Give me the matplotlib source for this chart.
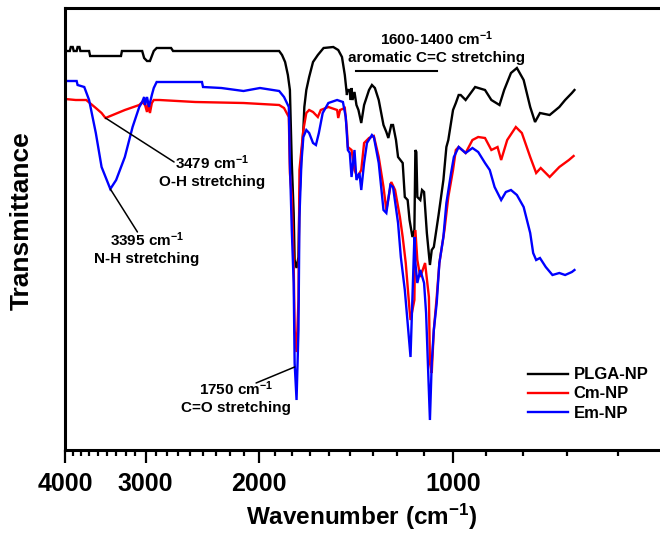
"""
FTIR spectra of PLGA-NP, Cm-NP and Em-NP nanoparticles.
Static matplotlib recreation, 660x534 px.
"""

import matplotlib
matplotlib.use("Agg")
import matplotlib.pyplot as plt
from matplotlib.ticker import NullFormatter

WIDTH, HEIGHT, DPI = 660, 534, 100

# Colors
BLACK = "#000000"
RED = "#FF0000"
BLUE = "#0000FF"

FONT = ["Liberation Sans", "DejaVu Sans"]

# -- Spectra: wavenumber (cm-1) and transmittance (a.u.) --
plga_wn = [4000, 3932, 3918, 3891, 3877, 3837, 3824, 3799, 3786, 3670, 3657, 3275, 3264,
           3036, 3015, 2984, 2953, 2933, 2913, 2883, 2738, 2719, 1861, 1842, 1822, 1804,
           1791, 1779, 1767, 1761, 1749, 1737, 1731, 1719, 1707, 1701, 1689, 1672, 1649,
           1621, 1588, 1534, 1507, 1487, 1472, 1461, 1456, 1446, 1441, 1437, 1432, 1422,
           1412, 1402, 1388, 1374, 1350, 1336, 1322, 1304, 1282, 1269, 1260, 1247, 1239,
           1226, 1217, 1197, 1188, 1176, 1168, 1156, 1148, 1144, 1140, 1136, 1124, 1117,
           1109, 1098, 1086, 1079, 1071, 1053, 1035, 1024, 1017, 1000, 990, 980, 973, 956,
           924, 892, 872, 847, 833, 813, 796, 777, 759, 746, 733, 708, 684, 670, 654, 648]
plga_t = [399, 399, 403, 403, 399, 399, 403, 403, 399, 399, 394, 394, 399,
          399, 392, 389, 389, 394, 399, 402, 402, 399, 399, 395, 388, 375,
          360, 287, 237, 190, 182, 193, 250, 293, 320, 343, 360, 373, 388,
          395, 402, 403, 400, 393, 375, 355, 360, 360, 350, 362, 350, 358,
          345, 340, 327, 345, 360, 365, 362, 350, 325, 318, 312, 325, 325,
          310, 293, 287, 253, 250, 230, 213, 220, 300, 298, 253, 250, 260,
          258, 217, 185, 200, 203, 235, 270, 303, 310, 340, 347, 355, 355, 350,
          363, 360, 350, 345, 360, 377, 382, 370, 343, 328, 337, 335, 343, 350, 357, 360]

cm_wn = [4000, 3850, 3708, 3583, 3510, 3461, 3402, 3230, 3068, 3036, 3005, 2984, 2974,
         2953, 2933, 2913, 2853, 2512, 2114, 1861, 1829, 1798, 1791, 1779, 1767, 1761,
         1749, 1737, 1731, 1719, 1707, 1689, 1672, 1649, 1621, 1604, 1561, 1513, 1507,
         1497, 1472, 1461, 1456, 1437, 1422, 1407, 1388, 1374, 1350, 1327, 1304, 1282,
         1269, 1247, 1230, 1209, 1197, 1184, 1168, 1164, 1148, 1144, 1136, 1124, 1105,
         1090, 1086, 1079, 1071, 1060, 1050, 1031, 1017, 1000, 990, 980, 956, 933, 914,
         892, 872, 853, 842, 824, 799, 782, 759, 743, 731, 708, 684, 661, 650]
cm_t = [351, 350, 350, 342, 337, 332, 334, 340, 345, 348, 345, 338, 347,
        337, 347, 350, 350, 348, 347, 345, 342, 333, 277, 253, 187, 120,
        98, 150, 280, 300, 320, 337, 340, 338, 333, 340, 343, 340, 332,
        340, 342, 320, 303, 300, 280, 273, 280, 307, 312, 314, 293, 263,
        240, 268, 260, 233, 213, 187, 140, 130, 150, 220, 190, 173, 187,
        153, 87, 77, 120, 153, 187, 220, 253, 280, 300, 303, 297, 310, 313,
        312, 300, 303, 290, 310, 323, 317, 293, 277, 282, 273, 283, 290, 294]

em_wn = [4000, 3837, 3824, 3734, 3670, 3583, 3510, 3402, 3332, 3230, 3142, 3068, 3036,
         3015, 3005, 2984, 2963, 2933, 2913, 2883, 2452, 2443, 2288, 2114, 1993, 1861,
         1829, 1798, 1791, 1779, 1767, 1761, 1749, 1737, 1731, 1719, 1707, 1689, 1672,
         1649, 1632, 1615, 1593, 1561, 1513, 1482, 1467, 1456, 1446, 1437, 1422, 1412,
         1397, 1388, 1374, 1360, 1336, 1327, 1304, 1282, 1269, 1251, 1239, 1217, 1205,
         1188, 1176, 1164, 1156, 1148, 1144, 1136, 1124, 1109, 1101, 1094, 1086, 1079,
         1071, 1060, 1050, 1035, 1024, 1007, 997, 980, 956, 933, 914, 892, 877, 862, 842,
         828, 813, 796, 777, 759, 751, 743, 733, 718, 701, 684, 670, 654, 648]
em_t = [369, 369, 365, 363, 350, 317, 283, 261, 270, 293, 323, 343, 348,
        353, 345, 353, 343, 355, 362, 368, 368, 363, 362, 359, 362, 359,
        353, 343, 287, 220, 167, 87, 50, 120, 233, 287, 313, 320, 317,
        307, 305, 317, 337, 347, 350, 348, 333, 300, 297, 273, 300, 270,
        277, 260, 287, 307, 315, 313, 287, 240, 237, 265, 263, 227, 193,
        160, 127, 93, 153, 213, 187, 167, 180, 167, 137, 87, 30, 87,
        120, 147, 187, 213, 247, 277, 293, 303, 297, 302, 298, 287, 280, 263, 250,
        258, 260, 255, 243, 217, 197, 190, 192, 183, 175, 177, 175, 178, 180]

SERIES = [
    ("PLGA-NP", plga_wn, plga_t, BLACK),
    ("Cm-NP", cm_wn, cm_t, RED),
    ("Em-NP", em_wn, em_t, BLUE),
]

MAJOR_TICKS = [4000, 3000, 2000, 1000]
MAJOR_LABELS = ["4000", "3000", "2000", "1000"]
MINOR_STEP = 1000 / 9  # eight minor ticks between majors

plt.rcParams["mathtext.default"] = "regular"

fig = plt.figure(figsize=(WIDTH / DPI, HEIGHT / DPI), dpi=DPI)
# axes run past the right edge, like the cropped original
ax = fig.add_axes([65 / WIDTH, 84 / HEIGHT, 615 / WIDTH, 442 / HEIGHT])

for label, wn, t, color in SERIES:
    ax.plot(wn, t, color=color, lw=1.7, label=label, solid_joinstyle="miter")

ax.set_xscale("log")
ax.set_xlim(4000, 480)
ax.set_ylim(0, 442)

ax.set_xticks(MAJOR_TICKS)
ax.set_xticklabels(MAJOR_LABELS)
minor = [4000 - k * MINOR_STEP for k in range(33) if k % 9]
ax.set_xticks(minor, minor=True)
ax.xaxis.set_minor_formatter(NullFormatter())
ax.set_yticks([])

ax.tick_params(axis="x", which="major", direction="out", length=9.5, width=1.6, pad=6)
ax.tick_params(axis="x", which="minor", direction="out", length=4.5, width=1.6)
for lab in ax.get_xticklabels():
    lab.set_fontfamily(FONT)
    lab.set_fontweight("bold")
    lab.set_fontsize(18)

ax.spines["right"].set_visible(False)
for side in ("left", "top", "bottom"):
    ax.spines[side].set_linewidth(2.2)

ax.set_xlabel("Wavenumber (cm$^{-1}$)", family=FONT, weight="bold", fontsize=17.5)
ax.xaxis.set_label_coords((362 - 65) / 615, -0.118)
ax.set_ylabel("Transmittance", family=FONT, weight="bold", fontsize=19)
ax.yaxis.set_label_coords(-0.05, 0.52)

# -- Peak annotations --
note = dict(family=FONT, weight="bold", fontsize=11, ha="center", va="center",
            multialignment="center", linespacing=1.25)
line = dict(arrowstyle="-", color=BLACK, lw=1.1, shrinkA=0, shrinkB=0)

ax.annotate("", xy=(3461, 332), xytext=(2709, 288), arrowprops=line)
ax.text(2368, 279, "3479 cm$^{-1}$\nO-H stretching", **note)

ax.annotate("", xy=(3402, 261), xytext=(3088, 218), arrowprops=line)
ax.text(2984, 202, "3395 cm$^{-1}$\nN-H stretching", **note)

ax.annotate("", xy=(1761, 83), xytext=(2021, 67), arrowprops=line)
ax.text(2172, 53, "1750 cm$^{-1}$\nC=O stretching", **note)

ax.plot([1413, 1060], [379, 379], color=BLACK, lw=1.5)
ax.text(1060, 403, "1600-1400 cm$^{-1}$\naromatic C=C stretching", **note)

ax.legend(loc="center left", bbox_to_anchor=(528 / WIDTH, 1 - 394 / HEIGHT),
          bbox_transform=fig.transFigure, frameon=False, borderpad=0, borderaxespad=0,
          handlelength=2.4, handletextpad=0.35, labelspacing=0.25,
          prop=dict(family=FONT, weight="bold", size=12))

fig.savefig("out.png", dpi=DPI)
